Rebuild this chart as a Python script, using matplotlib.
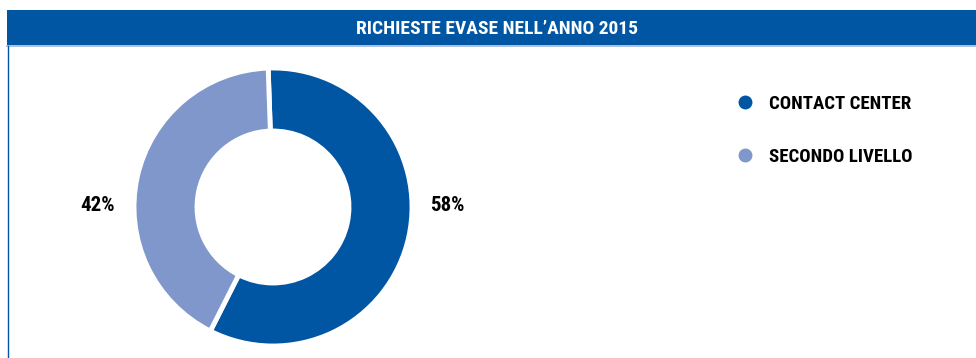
import matplotlib
matplotlib.use("Agg")
import matplotlib.pyplot as plt
from matplotlib.patches import Rectangle
from matplotlib.lines import Line2D
from matplotlib import font_manager

# prefer a condensed face when one is installed
_names = {f.name for f in font_manager.fontManager.ttflist}
_pref = ["Roboto Condensed", "Noto Sans Condensed", "DejaVu Sans Condensed",
         "Liberation Sans Narrow", "Open Sans Condensed", "Roboto"]
_fams = [n for n in _pref if n in _names] + ["DejaVu Sans"]
plt.rcParams['font.family'] = _fams

title = "RICHIESTE EVASE NELL\u2019ANNO 2015"
categories = ["CONTACT CENTER", "SECONDO LIVELLO"]
shares = [58, 42]
colors = ["#0056A3", "#8097CC"]

W, H = 976, 358
fig = plt.figure(figsize=(W / 100, H / 100), dpi=100)
fig.patch.set_facecolor("white")

# header band with title
hdr_top, hdr_bot = 10, 45
fig.patches.append(Rectangle((7 / W, 1 - hdr_bot / H), 1 - 7 / W, (hdr_bot - hdr_top) / H,
                             transform=fig.transFigure, facecolor="#0056A3", edgecolor="none"))
fig.lines.append(Line2D([7 / W, 1], [1 - 45.5 / H, 1 - 45.5 / H], transform=fig.transFigure,
                        color="#9DB6DD", linewidth=1.2))
fig.lines.append(Line2D([7.5 / W, 7.5 / W], [0, 1 - 46 / H], transform=fig.transFigure,
                        color="#0056A3", linewidth=1.0))
fig.text(497 / W, 1 - 29.5 / H, title, color="white", fontsize=14, fontweight="bold",
         ha="center", va="center")

# donut
cx, cy, r_out, r_in = 273, 207, 139, 76
ax = fig.add_axes([(cx - r_out) / W, (H - cy - r_out) / H, 2 * r_out / W, 2 * r_out / H])
wedges, _ = ax.pie(shares, colors=colors, startangle=92, counterclock=False, radius=1,
                   wedgeprops=dict(width=(r_out - r_in) / r_out, edgecolor="white", linewidth=3.5))
ax.set_xlim(-1, 1)
ax.set_ylim(-1, 1)
ax.set_aspect("equal")
ax.axis("off")

ax.text(1.255, 0.01, f"{shares[0]}%", fontsize=15, fontweight="bold", ha="center", va="center",
        clip_on=False)
ax.text(-1.26, 0.01, f"{shares[1]}%", fontsize=15, fontweight="bold", ha="center", va="center",
        clip_on=False)

# legend
handles = [Line2D([], [], marker="o", linestyle="none", markersize=9, markerfacecolor=c,
                  markeredgecolor=c) for c in colors]
fig.legend(handles, categories, loc="upper left", bbox_to_anchor=(736 / W, 1 - 95 / H),
           frameon=False, prop=dict(size=13.6, weight="bold"), handletextpad=0.75,
           labelspacing=1.85, handlelength=1.0, borderaxespad=0, borderpad=0)

fig.savefig("out.png", dpi=100, facecolor="white")
